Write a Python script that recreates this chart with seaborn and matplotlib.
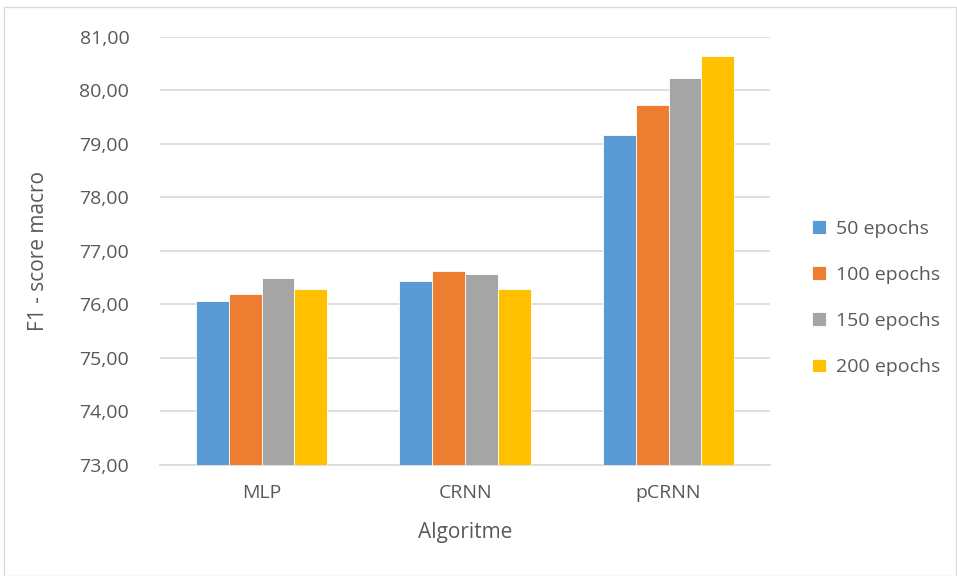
import pandas as pd
import seaborn as sns
import matplotlib.pyplot as plt
from matplotlib.ticker import FuncFormatter
from matplotlib.patches import Rectangle

#chart data
algorithms = ['MLP', 'CRNN', 'pCRNN']
epochs = ['50 epochs', '100 epochs', '150 epochs', '200 epochs']
f1_50 = [76.06, 76.43, 79.17]
f1_100 = [76.20, 76.62, 79.72]
f1_150 = [76.50, 76.56, 80.23]
f1_200 = [76.29, 76.29, 80.64]

colors = ['#5B9BD5', '#ED7D31', '#A5A5A5', '#FFC000']
text_color = '#595959'

#long format table for seaborn
rows = []
for ep, vals in zip(epochs, [f1_50, f1_100, f1_150, f1_200]):
    for alg, v in zip(algorithms, vals):
        rows.append({'Algoritme': alg, 'Epochs': ep, 'F1': v})
df = pd.DataFrame(rows)

sns.set_style('white')
plt.rcParams['font.family'] = ['Open Sans', 'DejaVu Sans']

fig = plt.figure(figsize=(9.57, 5.76), dpi=100)
ax = fig.add_axes([0.167, 0.193, 0.638, 0.743])

sns.barplot(data=df, x='Algoritme', y='F1', hue='Epochs', order=algorithms,
            hue_order=epochs, palette=colors, saturation=1, width=0.645, ax=ax,
            edgecolor='white', linewidth=0.6, errorbar=None, zorder=3)

ax.set_ylim(73, 81)
ax.set_yticks(range(73, 82))
ax.yaxis.set_major_formatter(FuncFormatter(lambda v, p: f'{v:.2f}'.replace('.', ',')))
ax.grid(axis='y', color='#D9D9D9', linewidth=1.2, zorder=0)
ax.set_axisbelow(True)
for s in ['top', 'right', 'left']:
    ax.spines[s].set_visible(False)
ax.spines['bottom'].set_color('#D9D9D9')
ax.spines['bottom'].set_linewidth(1.2)
ax.tick_params(axis='y', length=0, labelsize=14, colors=text_color, pad=22)
ax.tick_params(axis='x', length=0, labelsize=14, colors=text_color, pad=14)

ax.set_xlabel('Algoritme', fontsize=15, color=text_color, labelpad=14)
ax.set_ylabel('F1 - score macro', fontsize=15, color=text_color, labelpad=22)

ax.legend(loc='center left', bbox_to_anchor=(1.04, 0.39), frameon=False,
          fontsize=14, labelcolor=text_color, handlelength=0.7, handleheight=0.7,
          labelspacing=1.45, handletextpad=0.5)

#chart border
fig.patches.append(Rectangle((0.004, 0.0), 0.995, 0.987, transform=fig.transFigure,
                             fill=False, edgecolor='#D9D9D9', linewidth=1))

fig.savefig('out.png', dpi=100)
